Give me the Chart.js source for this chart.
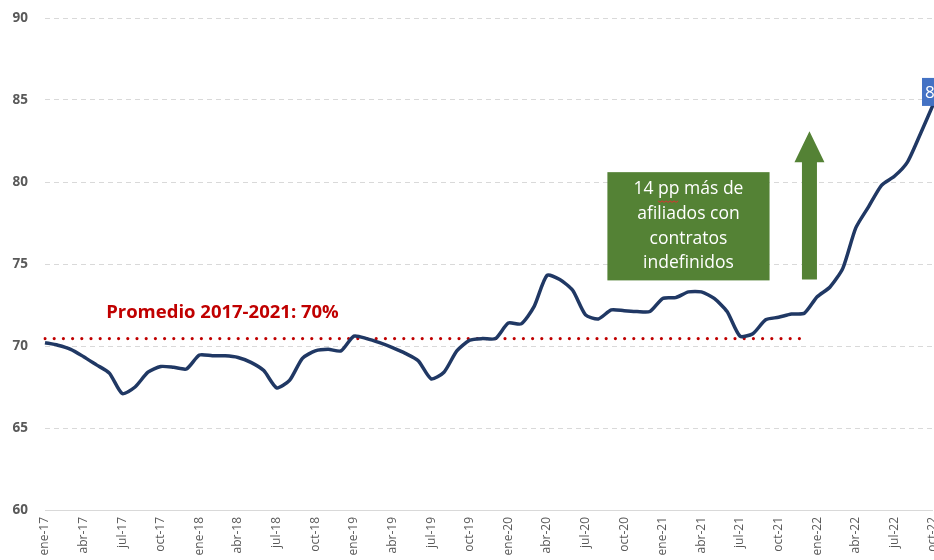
<!DOCTYPE html>
<html>
<head>
<meta charset="utf-8">
<script src="https://cdn.jsdelivr.net/npm/chart.js@4/dist/chart.umd.min.js"></script>
<style>
  html, body { margin: 0; padding: 0; background: #fff; overflow: hidden; }
  #wrap { width: 934px; height: 560px; position: relative; }
</style>
</head>
<body>
<div id="wrap"><canvas id="chart"></canvas></div>
<script>
// Meses ene-17 .. oct-22
const meses = [
  'ene-17','feb-17','mar-17','abr-17','may-17','jun-17','jul-17','ago-17','sep-17','oct-17','nov-17','dic-17',
  'ene-18','feb-18','mar-18','abr-18','may-18','jun-18','jul-18','ago-18','sep-18','oct-18','nov-18','dic-18',
  'ene-19','feb-19','mar-19','abr-19','may-19','jun-19','jul-19','ago-19','sep-19','oct-19','nov-19','dic-19',
  'ene-20','feb-20','mar-20','abr-20','may-20','jun-20','jul-20','ago-20','sep-20','oct-20','nov-20','dic-20',
  'ene-21','feb-21','mar-21','abr-21','may-21','jun-21','jul-21','ago-21','sep-21','oct-21','nov-21','dic-21',
  'ene-22','feb-22','mar-22','abr-22','may-22','jun-22','jul-22','ago-22','sep-22','oct-22'
];

// % afiliados con contrato indefinido
const indefinidos = [
  70.2, 70.05, 69.8, 69.35, 68.85, 68.35, 67.1, 67.5, 68.4, 68.75, 68.7, 68.6,
  69.45, 69.4, 69.4, 69.3, 69.0, 68.5, 67.45, 67.9, 69.25, 69.7, 69.8, 69.7,
  70.6, 70.45, 70.2, 69.9, 69.55, 69.1, 68.0, 68.4, 69.7, 70.35, 70.45, 70.45,
  71.4, 71.35, 72.4, 74.3, 74.05, 73.4, 71.9, 71.65, 72.2, 72.15, 72.1, 72.1,
  72.9, 72.95, 73.3, 73.3, 72.9, 72.1, 70.6, 70.75, 71.6, 71.75, 71.95, 72.0,
  73.0, 73.6, 74.75, 77.2, 78.5, 79.8, 80.35, 81.2, 82.9, 84.7
];

// Línea de promedio 2017-2021 (ene-17 .. dic-21)
const promedio = [
  70.45, 70.45, 70.45, 70.45, 70.45, 70.45, 70.45, 70.45, 70.45, 70.45, 70.45, 70.45,
  70.45, 70.45, 70.45, 70.45, 70.45, 70.45, 70.45, 70.45, 70.45, 70.45, 70.45, 70.45,
  70.45, 70.45, 70.45, 70.45, 70.45, 70.45, 70.45, 70.45, 70.45, 70.45, 70.45, 70.45,
  70.45, 70.45, 70.45, 70.45, 70.45, 70.45, 70.45, 70.45, 70.45, 70.45, 70.45, 70.45,
  70.45, 70.45, 70.45, 70.45, 70.45, 70.45, 70.45, 70.45, 70.45, 70.45, 70.45, 70.45
];

const yTicks = [60, 65, 70, 75, 80, 85, 90];
const etiquetaUltimo = '84,7';

// Anotaciones: texto rojo, caja verde, flecha y etiqueta final
const anotaciones = {
  id: 'anotaciones',
  afterDatasetsDraw(chart) {
    const { ctx } = chart;
    const x = chart.scales.x, y = chart.scales.y;
    ctx.save();

    // Texto del promedio
    ctx.fillStyle = '#C00000';
    ctx.font = 'bold 18.5px "Open Sans"';
    ctx.textBaseline = 'middle';
    ctx.textAlign = 'left';
    ctx.fillText('Promedio 2017-2021: 70%', x.getPixelForValue(4.75), y.getPixelForValue(72.05));

    // Caja verde
    const bx0 = x.getPixelForValue(43.7), bx1 = x.getPixelForValue(56.3);
    const by0 = y.getPixelForValue(80.6), by1 = y.getPixelForValue(74.0);
    ctx.fillStyle = '#548235';
    ctx.fillRect(bx0, by0, bx1 - bx0, by1 - by0);
    ctx.fillStyle = '#fff';
    ctx.font = '17.5px "Open Sans"';
    ctx.textAlign = 'center';
    const cx = (bx0 + bx1) / 2;
    const lineas = ['14 pp más de', 'afiliados con', 'contratos', 'indefinidos'];
    lineas.forEach((t, i) => ctx.fillText(t, cx, by0 + 17 + i * 24.7));

    // subrayado ortográfico bajo "pp"
    const w14 = ctx.measureText('14 pp más de').width;
    const ppStart = cx - w14 / 2 + ctx.measureText('14 ').width;
    const ppW = ctx.measureText('pp').width;
    ctx.strokeStyle = '#e03030';
    ctx.lineWidth = 1;
    ctx.beginPath();
    for (let k = 0; k <= ppW; k += 2) {
      const yy = by0 + 29 + ((k / 2) % 2 ? 1.2 : -0.2);
      if (k === 0) ctx.moveTo(ppStart + k, yy); else ctx.lineTo(ppStart + k, yy);
    }
    ctx.stroke();

    // Flecha verde
    const ax = x.getPixelForValue(59.4);
    const aTip = y.getPixelForValue(83.1), aBase = y.getPixelForValue(81.2), aBot = y.getPixelForValue(74.05);
    ctx.fillStyle = '#548235';
    ctx.beginPath();
    ctx.moveTo(ax - 7.5, aBot);
    ctx.lineTo(ax - 7.5, aBase);
    ctx.lineTo(ax - 15, aBase);
    ctx.lineTo(ax, aTip);
    ctx.lineTo(ax + 15, aBase);
    ctx.lineTo(ax + 7.5, aBase);
    ctx.lineTo(ax + 7.5, aBot);
    ctx.closePath();
    ctx.fill();

    // Etiqueta del último dato (recortada por el borde)
    const last = indefinidos.length - 1;
    const lx = x.getPixelForValue(last) - 11;
    const ly = y.getPixelForValue(indefinidos[last]) - 13;
    ctx.fillStyle = '#4472C4';
    ctx.fillRect(lx, ly - 14, 46, 28);
    ctx.fillStyle = '#fff';
    ctx.font = '17px "Open Sans"';
    ctx.textAlign = 'left';
    ctx.fillText(etiquetaUltimo, lx + 3, ly + 1);

    ctx.restore();
  }
};

new Chart(document.getElementById('chart'), {
  type: 'line',
  data: {
    labels: meses,
    datasets: [
      {
        label: 'Indefinidos',
        data: indefinidos,
        borderColor: '#203864',
        borderWidth: 3.5,
        pointRadius: 0,
        tension: 0.22,
        order: 0
      },
      {
        label: 'Promedio',
        data: promedio,
        borderColor: '#C00000',
        borderWidth: 3.2,
        borderDash: [0, 9.2],
        borderCapStyle: 'round',
        pointRadius: 0,
        tension: 0,
        order: 1
      }
    ]
  },
  options: {
    responsive: true,
    maintainAspectRatio: false,
    animation: false,
    layout: { padding: { top: 18, right: 1, left: 0, bottom: 0 } },
    plugins: { legend: { display: false }, tooltip: { enabled: false } },
    scales: {
      x: {
        offset: false,
        grid: { display: false, drawTicks: false },
        border: { display: false },
        ticks: {
          autoSkip: false,
          minRotation: 90,
          maxRotation: 90,
          padding: 7,
          color: '#595959',
          font: { family: 'Open Sans', size: 12 },
          callback: (v, i) => (i % 3 === 0 ? meses[i] : '')
        },
        afterFit: s => { s.height = 50; s.paddingLeft = 0; s.paddingRight = 0; }
      },
      y: {
        min: 60,
        max: 90,
        afterBuildTicks: s => { s.ticks = yTicks.map(v => ({ value: v })); },
        grid: { color: '#d9d9d9', lineWidth: 1, drawTicks: false },
        border: { display: false, dash: c => (c.tick && c.tick.value === 60 ? [] : [5, 4]) },
        ticks: {
          padding: 17,
          color: '#595959',
          font: { family: 'Open Sans', size: 13.5, weight: 'bold' }
        },
        afterFit: s => { s.width = 45; s.paddingTop = 0; s.paddingBottom = 0; }
      }
    }
  },
  plugins: [anotaciones]
});
</script>
</body>
</html>
